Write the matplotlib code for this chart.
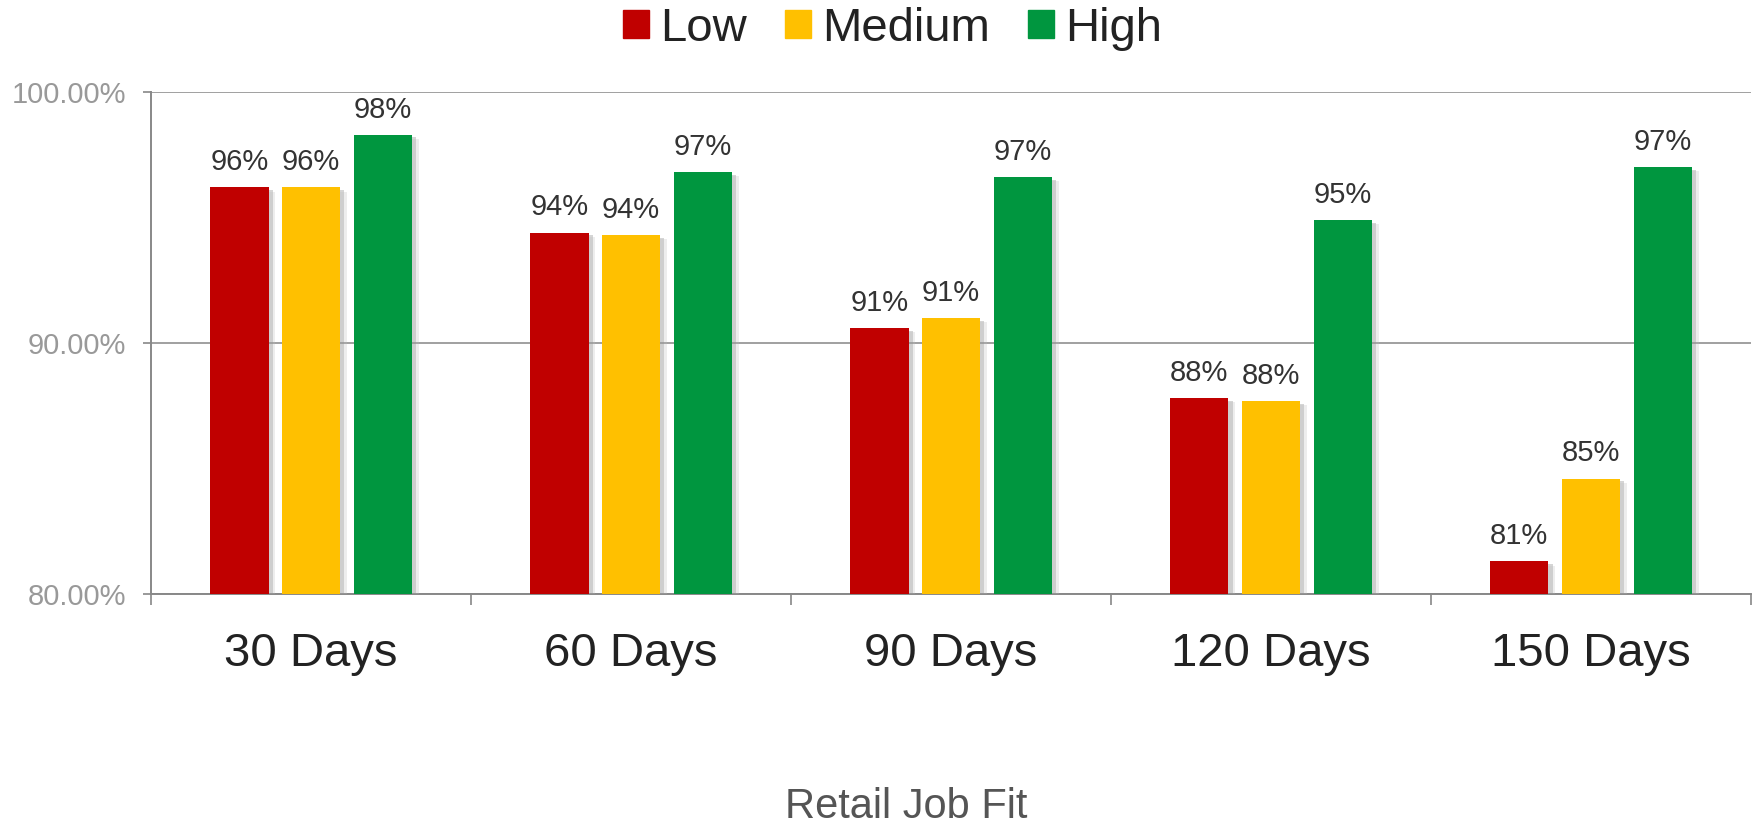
import matplotlib
matplotlib.use("Agg")
import matplotlib.pyplot as plt
import matplotlib.patheffects as pe
from matplotlib.patches import Rectangle
import numpy as np

plt.rcParams['font.family'] = ['Liberation Sans', 'DejaVu Sans']

# data (percent)
periods = ['30 Days', '60 Days', '90 Days', '120 Days', '150 Days']
low = [96.2, 94.4, 90.6, 87.8, 81.3]
medium = [96.2, 94.3, 91.0, 87.7, 84.6]
high = [98.3, 96.8, 96.6, 94.9, 97.0]
series_names = ['Low', 'Medium', 'High']
colors = ['#C00000', '#FFC000', '#00963F']
y_ticks = [80, 90, 100]

fig = plt.figure(figsize=(17.57, 8.25), dpi=100)
ax = fig.add_axes([0.086, 0.28, 0.9106, 0.6085])

x = np.arange(len(periods))
width = 0.182
step = 0.224
shadow = [pe.SimplePatchShadow(offset=(3, -2), shadow_rgbFace='#888888', alpha=0.35),
          pe.SimplePatchShadow(offset=(5, -3), shadow_rgbFace='#bbbbbb', alpha=0.25),
          pe.Normal()]

for i, (vals, name, col) in enumerate(zip([low, medium, high], series_names, colors)):
    bars = ax.bar(x + (i - 1) * step, np.array(vals) - 80, width, bottom=80,
                  color=col, zorder=3)
    for b in bars:
        b.set_path_effects(shadow)
    for xi, v in zip(x + (i - 1) * step, vals):
        ax.annotate(f"{round(v):d}%", (xi, v), xytext=(0, 8), textcoords='offset points',
                    ha='center', va='bottom', fontsize=21, color='#333333', zorder=4)

ax.set_xlim(-0.5, len(periods) - 0.5)
ax.set_ylim(80, 100)
ax.set_yticks(y_ticks)
ax.set_yticklabels([f"{t:.2f}%" for t in y_ticks])
ax.yaxis.grid(True, color='#999999', linewidth=1.3, zorder=0)
ax.set_axisbelow(True)

ax.set_xticks(x)
ax.set_xticklabels(periods)
ax.set_xticks(np.arange(len(periods) + 1) - 0.5, minor=True)
ax.tick_params(axis='x', which='major', length=0, pad=27, labelsize=34, labelcolor='#222222')
ax.tick_params(axis='x', which='minor', length=8, width=1.2, color='#888888', direction='out')
ax.tick_params(axis='y', length=6, width=1.2, color='#888888', pad=12,
               labelsize=21, labelcolor='#999999')

for s in ['top', 'right']:
    ax.spines[s].set_visible(False)
for s in ['left', 'bottom']:
    ax.spines[s].set_color('#888888')
    ax.spines[s].set_linewidth(1.4)

proxies = [Rectangle((0, 0), 1, 1, color=c) for c in colors]
fig.legend(handles=proxies, labels=series_names, loc='center', bbox_to_anchor=(0.508, 0.965),
           ncol=3, frameon=False, fontsize=34, handlelength=0.55, handleheight=0.55,
           handletextpad=0.22, columnspacing=0.82, labelcolor='#222222')

fig.text(0.516, 0.022, 'Retail Job Fit', ha='center', va='center', fontsize=30, color='#555555')

fig.savefig('out.png', dpi=100)
